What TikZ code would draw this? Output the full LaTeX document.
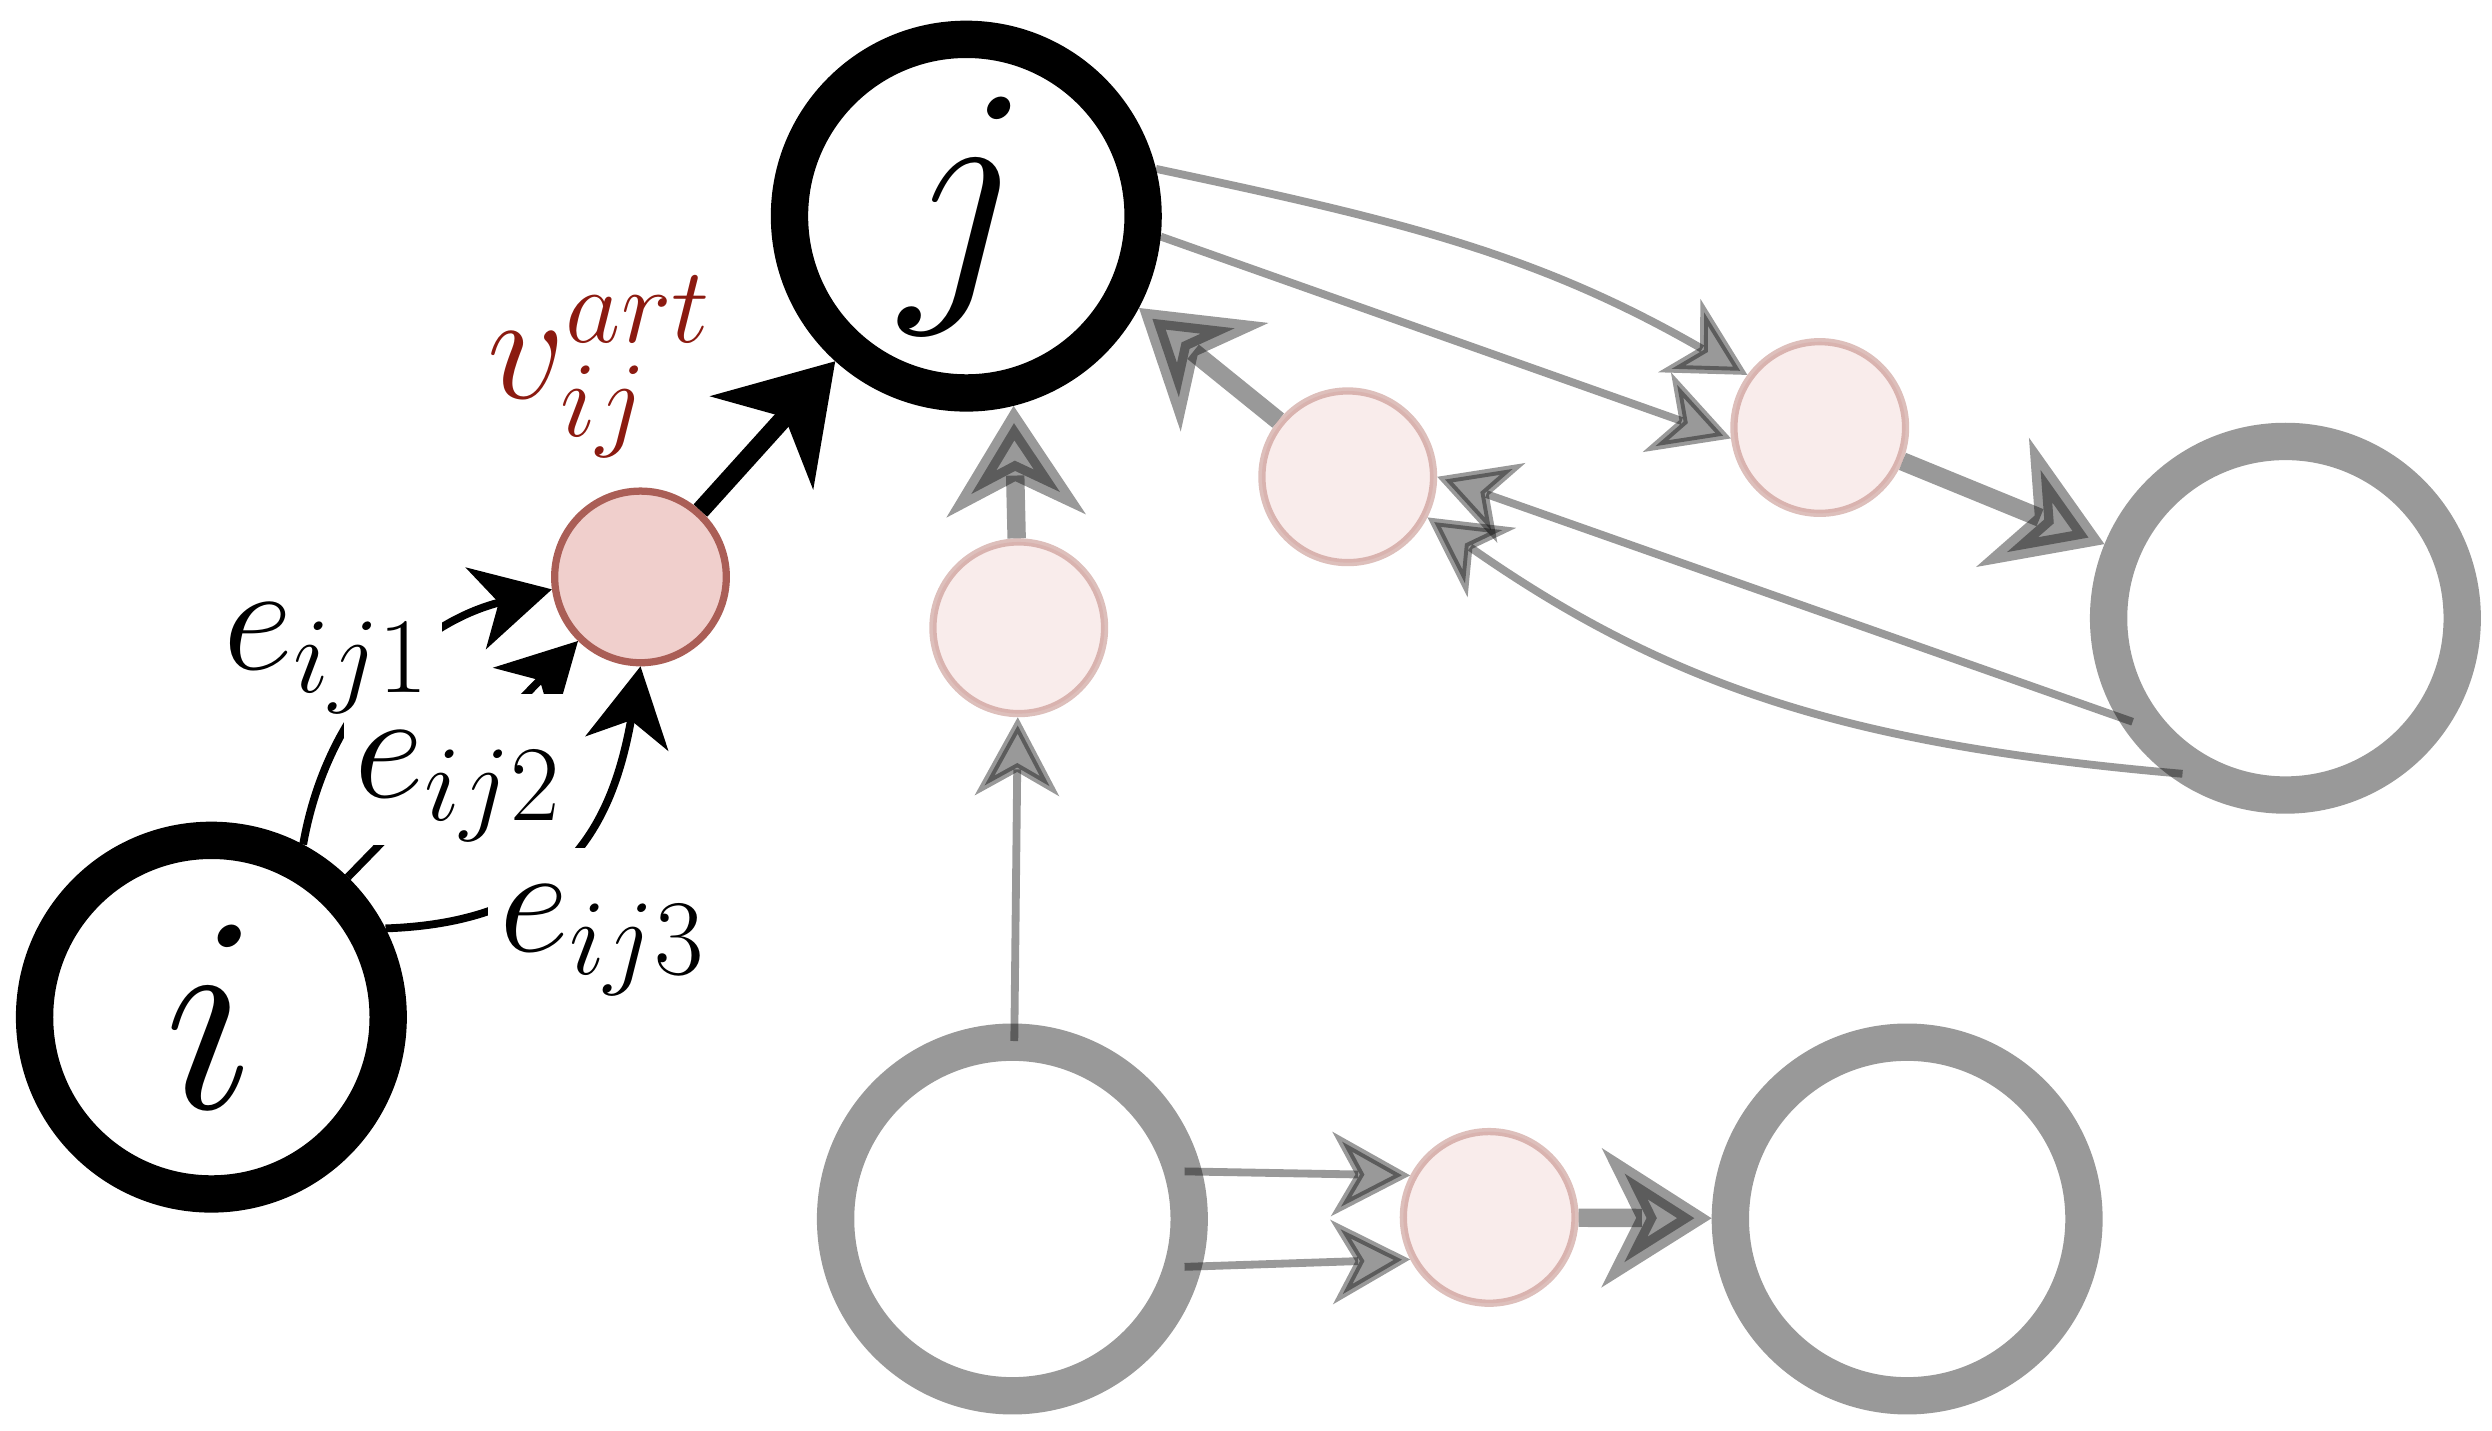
\RequirePackage{fix-cm}
\documentclass[tikz,border=0pt]{standalone}
\usetikzlibrary{arrows.meta}
\definecolor{artfill}{HTML}{F0CFCC}
\definecolor{artline}{HTML}{AA5E56}
\definecolor{artlabel}{HTML}{8B1A10}
\tikzset{
  vertex/.style = {circle, draw, line width=0.235cm, minimum size=2.225cm, inner sep=0pt, font=\fontsize{50}{60}\selectfont},
  artvertex/.style = {circle, draw=artline, fill=artfill, line width=1.3pt, minimum size=1.08cm, inner sep=0pt},
  ghost/.style = {opacity=0.4},
  edge/.style = {line width=1.4pt, -{Stealth[length=14pt, width=15pt, inset=4.2pt]}},
  thick edge/.style = {line width=3.3pt, -{Stealth[length=19.5pt, width=24.5pt, inset=6pt]}},
  fromring/.style = {shorten <=-0.11cm},
  elabel/.style = {fill=white, inner sep=2pt, text height=16.5pt, text depth=6.5pt, font=\fontsize{27.5}{33}\selectfont}
}
\begin{document}
\begin{tikzpicture}
  \useasboundingbox (0,0) rectangle (15.68,9);
  % original vertices
  \node[vertex] (i) at (1.33,2.60) {$i$};
  \node[vertex] (j) at (6.08,7.64) {$j$};
  \node[vertex, ghost] (g1) at (14.38,5.11) {};
  \node[vertex, ghost] (g2) at (6.37,1.33) {};
  \node[vertex, ghost] (g3) at (12.00,1.33) {};
  % artificial vertices
  \node[artvertex] (art) at (4.03,5.37) {};
  \node[artvertex, ghost] (p1) at (6.41,5.05) {};
  \node[artvertex, ghost] (p2) at (8.48,6.00) {};
  \node[artvertex, ghost] (p3) at (11.45,6.31) {};
  \node[artvertex, ghost] (p4) at (9.37,1.34) {};

  % edges into the artificial vertex
  \draw[edge] (i.62) to[out=80, in=-166] (art.188);
  \draw[edge] (i) -- (art);
  \draw[edge] (i.27) to[out=2, in=-100, looseness=1.2] (art.-90);
  \draw[thick edge] (art) -- (j);

  % the other multi-edges
  \draw[edge, ghost, fromring] (g2) -- (p1);
  \draw[thick edge, ghost] (p1) -- (j.-76);
  \draw[thick edge, ghost] (p2) -- (j.-28);
  \draw[edge, ghost] (j.14) to[out=-12, in=150] (p3.144);
  \draw[edge, ghost] (j.-6) -- (p3.187);
  \draw[thick edge, ghost] (p3) -- (g1);
  \draw[edge, ghost, fromring] (g1.210) -- (p2.0);
  \draw[edge, ghost, fromring] (g1.232) to[out=175, in=-35] (p2.333);
  \draw[edge, ghost, fromring] (g2.14) -- (p4.152);
  \draw[edge, ghost, fromring] (g2.-14) -- (p4.208);
  \draw[thick edge, ghost] (p4) -- (g3);

  % labels
  \node[elabel] (e2) at (2.885,4.156) {$e_{ij2}$};
  \node[elabel] (e3) at (3.794,3.191) {$e_{ij3}$};
  \node[elabel] (e1) at (2.06,4.966) {$e_{ij1}$};
  \node[text=artlabel, font=\fontsize{27.5}{33}\selectfont] (v) at (3.775,6.69) {$v_{ij}^{art}$};
\end{tikzpicture}
\end{document}
